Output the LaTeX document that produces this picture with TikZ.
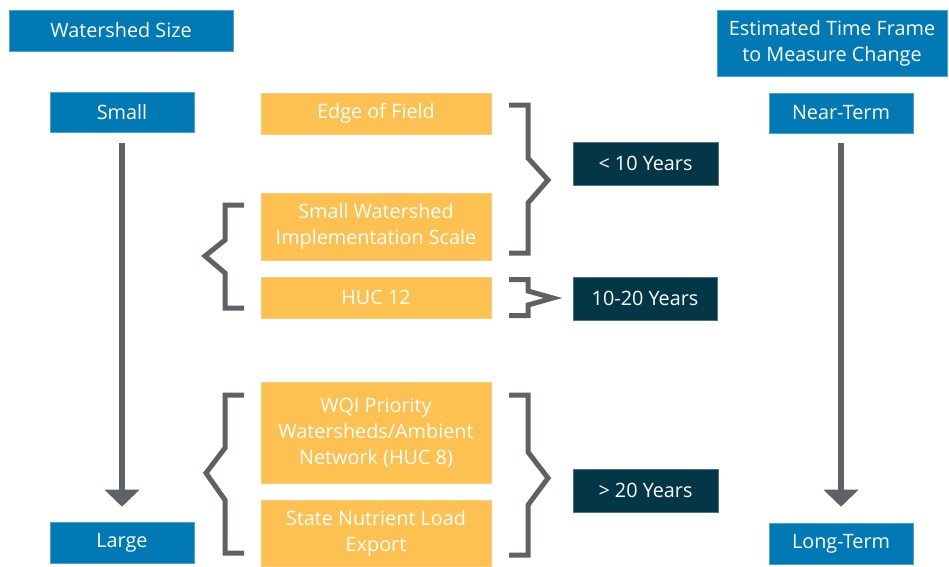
\documentclass[tikz,border=0pt]{standalone}
\usepackage{fontspec}
\setmainfont{Open Sans}
\usetikzlibrary{arrows.meta}
\definecolor{cblue}{HTML}{0079B5}
\definecolor{cblueedge}{HTML}{4FA3CF}
\definecolor{corange}{HTML}{FDC151}
\definecolor{cdark}{HTML}{033747}
\definecolor{cgray}{HTML}{5E6267}
\tikzset{
  base/.style={rectangle, inner sep=0pt, align=center, text=white,
    font=\fontsize{19.8}{26}\selectfont, line width=0.6pt},
  bluebox/.style={base, fill=cblue, draw=cblueedge},
  orangebox/.style={base, fill=corange, draw=corange!80!white},
  darkbox/.style={base, fill=cdark, draw=cdark!70!white},
  bracket/.style={draw=cgray, line width=5pt, miter limit=10},
  bigarrow/.style={draw=cgray, line width=6pt, -{Triangle[width=34pt,length=17pt]}}
}
\newcommand{\dn}[1]{\raisebox{-1.5pt}{\shortstack{#1}}}
\begin{document}
\begin{tikzpicture}[x=1pt,y=-1pt]
\useasboundingbox (0,0) rectangle (949,566);
% header boxes
\node[bluebox, minimum width=224pt, minimum height=41pt] (ws) at (121,30.5) {Watershed Size};
\node[bluebox, minimum width=230pt, minimum height=66pt] (etf) at (832,43) {Estimated Time Frame\\to Measure Change};
% scale ends
\node[bluebox, minimum width=144pt, minimum height=40pt] (small) at (122,112) {Small};
\node[bluebox, minimum width=144pt, minimum height=41pt] (large) at (122,542.5) {Large};
\node[bluebox, minimum width=144pt, minimum height=40pt] (near) at (841,113) {Near-Term};
\node[bluebox, minimum width=144pt, minimum height=41pt] (long) at (841,543.5) {Long-Term};
% orange scales
\node[orangebox, minimum width=230pt, minimum height=41pt] (edge) at (376,113.5) {Edge of Field};
\node[orangebox, minimum width=230pt, minimum height=67pt] (sws) at (376,226.5) {Small Watershed\\Implementation Scale};
\node[orangebox, minimum width=230pt, minimum height=41pt] (huc) at (376,297.5) {HUC 12};
\node[orangebox, minimum width=230pt, minimum height=101pt] (wqi) at (376,432.5) {WQI Priority\\Watersheds/Ambient\\Network (HUC 8)};
\node[orangebox, minimum width=230pt, minimum height=66pt] (snl) at (376,533) {State Nutrient Load\\Export};
% time frames
\node[darkbox, minimum width=145pt, minimum height=43pt] (t1) at (645.5,163.5) {< 10 Years};
\node[darkbox, minimum width=144pt, minimum height=43pt] (t2) at (645,298.5) {10-20 Years};
\node[darkbox, minimum width=145pt, minimum height=43pt] (t3) at (645.5,490.5) {> 20 Years};
% big arrows
\draw[bigarrow, shorten <=11pt, shorten >=15pt] (small) -- (large);
\draw[bigarrow, shorten <=10pt, shorten >=16pt] (near) -- (long);
% brackets
\draw[bracket] (509,105) -- (528,105) -- (528,158) -- (548,180) -- (528,203) -- (528,253) -- (509,253);
\draw[bracket] (509,279.5) -- (528,279.5) -- (528,291) -- (553,298) -- (528,305) -- (528,315.5) -- (509,315.5);
\draw[bracket] (509,395) -- (528,395) -- (528,452) -- (548,478) -- (528,505) -- (528,555) -- (509,555);
\draw[bracket] (244,205) -- (225,205) -- (225,240) -- (205,256) -- (225,273) -- (225,308) -- (244,308);
\draw[bracket] (244,395) -- (225,395) -- (225,448) -- (206,473) -- (225,500) -- (225,553) -- (244,553);
\end{tikzpicture}
\end{document}
